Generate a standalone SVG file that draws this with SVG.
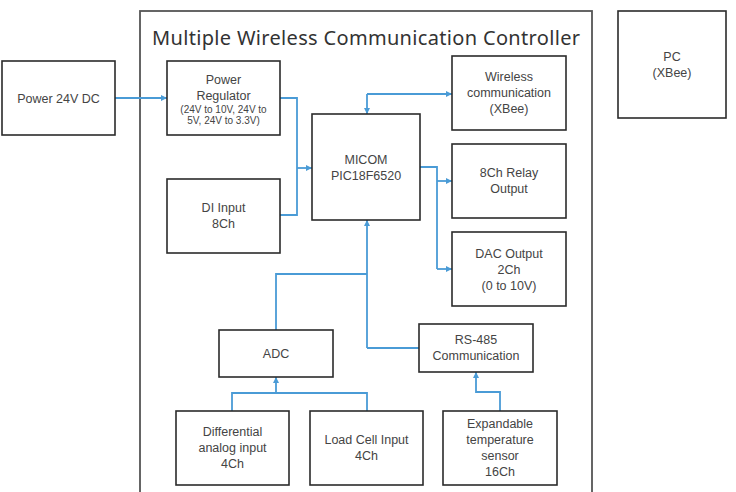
<svg xmlns="http://www.w3.org/2000/svg" width="736" height="492" viewBox="0 0 736 492">
<defs>
<marker id="ah" viewBox="0 0 10 10" refX="10" refY="5" markerWidth="6" markerHeight="6" markerUnits="userSpaceOnUse" orient="auto">
<path d="M0,0 L10,5 L0,10 z" fill="#4a9bd6"/>
</marker>
<style>
.box{fill:#fff;stroke:#2b2b2b;stroke-width:1.6}
.frame{fill:none;stroke:#555;stroke-width:1.8}
.t{font-family:"Liberation Sans",Arial,sans-serif;font-size:12.5px;fill:#444;text-anchor:middle}
.s{font-family:"Liberation Sans",Arial,sans-serif;font-size:10px;fill:#444;text-anchor:middle}
.title{font-family:"Noto Sans","Open Sans",sans-serif;font-size:20px;fill:#333}
.c{fill:none;stroke:#4a9bd6;stroke-width:1.8}
.a{marker-end:url(#ah)}
</style>
</defs>
<rect width="736" height="492" fill="#fff"/>
<g id="frame">
<rect class="frame" x="140" y="11" width="452" height="500"/>
<text class="title" x="152" y="45" textLength="428" lengthAdjust="spacing">Multiple Wireless Communication Controller</text>
</g>
<g id="connectors">
<path class="c a" d="M115,98 H167"/>
<path class="c" d="M280,98 H297 V215 H280"/>
<path class="c a" d="M297,168 H312"/>
<path class="c a" d="M367,94 H452"/>
<path class="c a" d="M367,94 V114"/>
<path class="c" d="M420,167 H437 V269"/>
<path class="c a" d="M437,181 H452"/>
<path class="c a" d="M437,269 H452"/>
<path class="c a" d="M367,348 V220"/>
<path class="c" d="M367,348 H419"/>
<path class="c" d="M367,274 H276 V330"/>
<path class="c" d="M232,411 V393 H367 V411"/>
<path class="c a" d="M276,393 V377"/>
<path class="c a" d="M500,411 V392 H476 V372"/>
</g>
<g id="power24">
<rect class="box" x="2" y="61" width="113" height="74"/>
<text class="t" x="58.5" y="103">Power 24V DC</text>
</g>
<g id="regulator">
<rect class="box" x="167" y="61" width="113" height="74"/>
<text class="t" x="223.5" y="84">Power</text>
<text class="t" x="223.5" y="100">Regulator</text>
<text class="s" x="223.5" y="113">(24V to 10V, 24V to</text>
<text class="s" x="223.5" y="124">5V, 24V to 3.3V)</text>
</g>
<g id="di">
<rect class="box" x="167" y="179" width="113" height="74"/>
<text class="t" x="223.5" y="212">DI Input</text>
<text class="t" x="223.5" y="228">8Ch</text>
</g>
<g id="micom">
<rect class="box" x="312" y="114" width="108" height="106"/>
<text class="t" x="366" y="164">MICOM</text>
<text class="t" x="366" y="180">PIC18F6520</text>
</g>
<g id="wireless">
<rect class="box" x="452" y="56" width="114" height="74"/>
<text class="t" x="509" y="81">Wireless</text>
<text class="t" x="509" y="97">communication</text>
<text class="t" x="509" y="113">(XBee)</text>
</g>
<g id="relay">
<rect class="box" x="452" y="144" width="114" height="74"/>
<text class="t" x="509" y="177">8Ch Relay</text>
<text class="t" x="509" y="193">Output</text>
</g>
<g id="dac">
<rect class="box" x="452" y="232" width="114" height="74"/>
<text class="t" x="509" y="258">DAC Output</text>
<text class="t" x="509" y="274">2Ch</text>
<text class="t" x="509" y="290">(0 to 10V)</text>
</g>
<g id="pc">
<rect class="box" x="618" y="11" width="108" height="107"/>
<text class="t" x="672" y="61">PC</text>
<text class="t" x="672" y="77">(XBee)</text>
</g>
<g id="adc">
<rect class="box" x="219" y="330" width="114" height="47"/>
<text class="t" x="276" y="358">ADC</text>
</g>
<g id="rs485">
<rect class="box" x="419" y="324" width="114" height="48"/>
<text class="t" x="476" y="344">RS-485</text>
<text class="t" x="476" y="360">Communication</text>
</g>
<g id="diff">
<rect class="box" x="176" y="411" width="113" height="74"/>
<text class="t" x="232.5" y="436">Differential</text>
<text class="t" x="232.5" y="452">analog input</text>
<text class="t" x="232.5" y="468">4Ch</text>
</g>
<g id="loadcell">
<rect class="box" x="310" y="411" width="113" height="74"/>
<text class="t" x="366.5" y="444">Load Cell Input</text>
<text class="t" x="366.5" y="460">4Ch</text>
</g>
<g id="temp">
<rect class="box" x="443" y="411" width="114" height="74"/>
<text class="t" x="500" y="428">Expandable</text>
<text class="t" x="500" y="444">temperature</text>
<text class="t" x="500" y="460">sensor</text>
<text class="t" x="500" y="476">16Ch</text>
</g>
</svg>
